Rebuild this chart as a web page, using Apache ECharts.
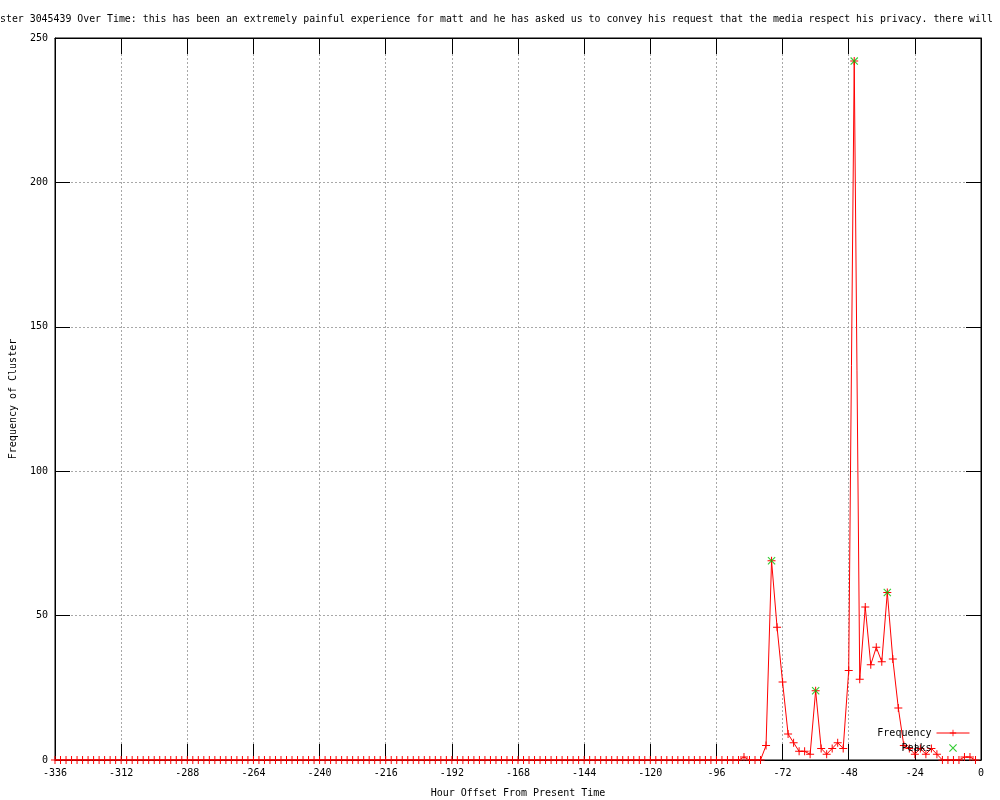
<!DOCTYPE html>
<html>
<head>
<meta charset="utf-8">
<script src="https://cdn.jsdelivr.net/npm/echarts@6/dist/echarts.min.js"></script>
<style>html,body{margin:0;padding:0;background:#fff}#c{width:1000px;height:800px}</style>
</head>
<body>
<div id="c"></div>
<script>
const titleText = "ster 3045439 Over Time: this has been an extremely painful experience for matt and he has asked us to convey his request that the media respect his privacy. there will";
const xName = "Hour Offset From Present Time";
const yName = "Frequency of Cluster";

const hours = [
-336,-334,-332,-330,-328,-326,-324,-322,-320,-318,-316,-314,-312,-310,-308,-306,-304,-302,-300,-298,-296,-294,-292,-290,-288,
-286,-284,-282,-280,-278,-276,-274,-272,-270,-268,-266,-264,-262,-260,-258,-256,-254,-252,-250,-248,-246,-244,-242,-240,-238,
-236,-234,-232,-230,-228,-226,-224,-222,-220,-218,-216,-214,-212,-210,-208,-206,-204,-202,-200,-198,-196,-194,-192,-190,-188,
-186,-184,-182,-180,-178,-176,-174,-172,-170,-168,-166,-164,-162,-160,-158,-156,-154,-152,-150,-148,-146,-144,-142,-140,-138,
-136,-134,-132,-130,-128,-126,-124,-122,-120,-118,-116,-114,-112,-110,-108,-106,-104,-102,-100,-98,-96,-94,-92,-90,-88,
-86,-84,-82,-80,-78,-76,-74,-72,-70,-68,-66,-64,-62,-60,-58,-56,-54,-52,-50,-48,-46,-44,-42,-40,-38,
-36,-34,-32,-30,-28,-26,-24,-22,-20,-18,-16,-14,-12,-10,-8,-6,-4,-2
];
const frequency = [
0,0,0,0,0,0,0,0,0,0,0,0,0,0,0,0,0,0,0,0,0,0,0,0,0,
0,0,0,0,0,0,0,0,0,0,0,0,0,0,0,0,0,0,0,0,0,0,0,0,0,
0,0,0,0,0,0,0,0,0,0,0,0,0,0,0,0,0,0,0,0,0,0,0,0,0,
0,0,0,0,0,0,0,0,0,0,0,0,0,0,0,0,0,0,0,0,0,0,0,0,0,
0,0,0,0,0,0,0,0,0,0,0,0,0,0,0,0,0,0,0,0,0,0,0,0,0,
1,0,0,0,5,69,46,27,9,6,3,3,2,24,4,2,4,6,4,31,242,28,53,33,39,
34,58,35,18,5,4,2,4,2,4,2,0,0,0,0,1,1,0
];
const peakHours = [-76, -60, -46, -34];
const peakValues = [69, 24, 242, 58];

const xMin = -336, xMax = 0, xStep = 24;
const yMin = 0, yMax = 250, yStep = 50;

const FONT = '"DejaVu Sans Mono", "Liberation Mono", monospace';
const plusPath = 'path://M0,3.5 L8,3.5 L8,4.5 L0,4.5 Z M3.5,0 L4.5,0 L4.5,8 L3.5,8 Z';
const crossPath = 'path://M0,0.8 L0.8,0 L8,7.2 L7.2,8 Z M7.2,0 L8,0.8 L0.8,8 L0,7.2 Z';

const freqData = hours.map((h, i) => [h, frequency[i]]);
const peakData = peakHours.map((h, i) => [h, peakValues[i]]);

const chart = echarts.init(document.getElementById('c'), null, {renderer: 'canvas'});
const gridLine = {show: true, lineStyle: {color: '#a8a8a8', type: [2, 2], width: 1}};
chart.setOption({
  animation: false,
  backgroundColor: '#fff',
  title: {
    text: titleText, left: 0, top: 14, padding: 0,
    textStyle: {fontFamily: FONT, fontSize: 9.9, fontWeight: 'normal', color: '#000'}
  },
  grid: {left: 55, right: 19, top: 38, bottom: 40, outerBoundsMode: 'none', containLabel: false,
         show: true, borderColor: '#000', borderWidth: 1, backgroundColor: 'transparent'},
  legend: {
    orient: 'vertical', align: 'right', right: 30, top: 728, itemWidth: 33, itemHeight: 8, itemGap: 5, padding: 0,
    textStyle: {fontFamily: FONT, fontSize: 10, color: '#000'},
    lineStyle: {width: 1},
    data: [
      {name: 'Frequency'},
      {name: 'Peaks', icon: crossPath}
    ]
  },
  xAxis: [{
    type: 'value', min: xMin, max: xMax, interval: xStep, position: 'bottom',
    name: xName, nameLocation: 'middle', nameGap: 28,
    nameTextStyle: {fontFamily: FONT, fontSize: 10, color: '#000'},
    axisLine: {show: true, onZero: false, lineStyle: {color: '#000', width: 1}},
    axisTick: {show: true, inside: true, length: 16, lineStyle: {color: '#000'}},
    axisLabel: {fontFamily: FONT, fontSize: 10, color: '#000', margin: 8},
    splitLine: gridLine
  }, {
    type: 'value', min: xMin, max: xMax, interval: xStep, position: 'top',
    axisLine: {show: true, onZero: false, lineStyle: {color: '#000', width: 1}},
    axisTick: {show: true, inside: true, length: 16, lineStyle: {color: '#000'}},
    axisLabel: {show: false}, splitLine: {show: false}
  }],
  yAxis: [{
    type: 'value', min: yMin, max: yMax, interval: yStep, position: 'left',
    name: yName, nameLocation: 'middle', nameGap: 37, nameRotate: 90,
    nameTextStyle: {fontFamily: FONT, fontSize: 10, color: '#000'},
    axisLine: {show: true, onZero: false, lineStyle: {color: '#000', width: 1}},
    axisTick: {show: true, inside: true, length: 15, lineStyle: {color: '#000'}},
    axisLabel: {fontFamily: FONT, fontSize: 10, color: '#000', margin: 7},
    splitLine: gridLine
  }, {
    type: 'value', min: yMin, max: yMax, interval: yStep, position: 'right',
    axisLine: {show: true, onZero: false, lineStyle: {color: '#000', width: 1}},
    axisTick: {show: true, inside: true, length: 15, lineStyle: {color: '#000'}},
    axisLabel: {show: false}, splitLine: {show: false}
  }],
  series: [{
    name: 'Frequency', type: 'line', data: freqData, xAxisIndex: 0, yAxisIndex: 0,
    symbol: plusPath, symbolSize: 8, showAllSymbol: true,
    lineStyle: {color: '#ff0000', width: 1},
    itemStyle: {color: '#ff0000', borderWidth: 0},
    emphasis: {disabled: true}, z: 2
  }, {
    name: 'Peaks', type: 'scatter', data: peakData, xAxisIndex: 0, yAxisIndex: 0,
    symbol: crossPath, symbolSize: 8,
    itemStyle: {color: '#00c000', borderWidth: 0},
    emphasis: {disabled: true}, z: 3
  }]
});
</script>
</body>
</html>
